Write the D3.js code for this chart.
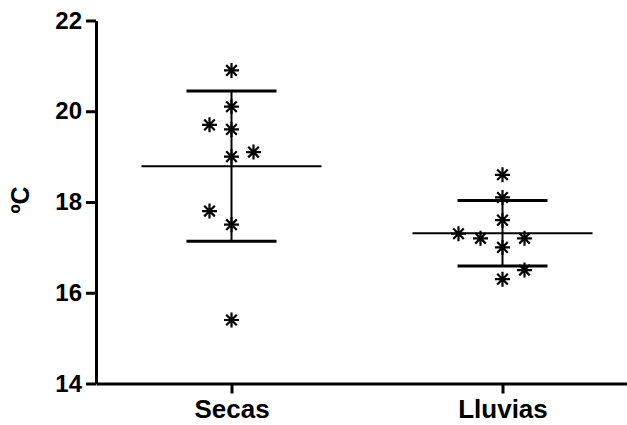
<!DOCTYPE html>
<html>
<head>
<meta charset="utf-8">
<script src="https://cdn.jsdelivr.net/npm/d3@7"></script>
<style>
body { margin:0; background:#fff; }
svg { display:block; font-family:"Liberation Sans", Arial, sans-serif; font-weight:bold; }
</style>
</head>
<body>
<svg id="chart"></svg>
<script>
// groups on the x axis
var groups = ["Secas","Lluvias"];
// temperature readings, one array per group
var secasValues  = [20.9,20.1,19.7,19.6,19.0,19.1,17.8,17.5,15.4];
var lluviasValues = [18.6,18.1,17.6,17.3,17.2,17.2,17.0,16.5,16.3];
// side-by-side slot of each point (scatter spread), same order as values
var secasSlots   = [0,0,-1,0,0,1,-1,0,0];
var lluviasSlots = [0,0,0,-2,-1,1,0,1,0];
var yTicks = [14,16,18,20,22];
var yLabel = "ºC";

var screen = {width:627,height:425};
var margins = {left:96,top:20.5,bottom:41.5};
var graph = {width:542,height:screen.height-margins.top-margins.bottom};

var svg = d3.select("#chart")
    .attr("width",screen.width)
    .attr("height",screen.height);

var xScale = d3.scalePoint()
    .domain(groups)
    .range([0,graph.width])
    .padding(0.5);
var yScale = d3.scaleLinear()
    .domain([14,22])
    .range([graph.height,0]);

var slotWidth = 22;

var series = [
    {name:"Secas",values:secasValues,slots:secasSlots},
    {name:"Lluvias",values:lluviasValues,slots:lluviasSlots}
];

var target = svg.append("g")
    .attr("transform","translate("+margins.left+","+margins.top+")");

// axes
var yAxis = d3.axisLeft(yScale).tickValues(yTicks).tickSize(10).tickSizeOuter(0).tickPadding(4);
var xAxis = d3.axisBottom(xScale).tickSize(10).tickSizeOuter(0).tickPadding(6);

var yG = target.append("g").call(yAxis);
var xG = target.append("g").attr("transform","translate(0,"+graph.height+")").call(xAxis);
[yG,xG].forEach(function(g){
    g.selectAll("path,line").attr("stroke","#000").attr("stroke-width",3);
    g.selectAll("text").attr("fill","#000").style("font-family","Liberation Sans, Arial, sans-serif").style("font-weight","bold");
});
yG.selectAll("text").style("font-size","24px");
xG.selectAll("text").style("font-size","26px");

svg.append("text")
    .text(yLabel)
    .attr("transform","translate(29,200) rotate(-90)")
    .attr("text-anchor","middle")
    .style("font-size","25px")
    .attr("fill","#000");

// mean and SD bars
series.forEach(function(s){
    var cx = xScale(s.name);
    var m = d3.mean(s.values);
    var sd = d3.deviation(s.values);
    var g = target.append("g").attr("stroke","#000");
    g.append("line")
        .attr("x1",cx).attr("x2",cx)
        .attr("y1",yScale(m+sd)).attr("y2",yScale(m-sd))
        .attr("stroke-width",2);
    g.append("line")
        .attr("x1",cx-90).attr("x2",cx+90)
        .attr("y1",yScale(m)).attr("y2",yScale(m))
        .attr("stroke-width",2);
    [m+sd,m-sd].forEach(function(v){
        g.append("line")
            .attr("x1",cx-45).attr("x2",cx+45)
            .attr("y1",yScale(v)).attr("y2",yScale(v))
            .attr("stroke-width",3);
    });
});

// asterisk markers
var r = 7.5;
var d = r*Math.SQRT1_2;
var star = "M0,"+(-r)+"V"+r+"M"+(-r)+",0H"+r+
           "M"+(-d)+","+(-d)+"L"+d+","+d+"M"+(-d)+","+d+"L"+d+","+(-d);

series.forEach(function(s){
    target.append("g")
        .selectAll("path")
        .data(s.values)
        .enter()
        .append("path")
        .attr("d",star)
        .attr("fill","none")
        .attr("stroke","#000")
        .attr("stroke-width",2.2)
        .attr("transform",function(v,i){
            return "translate("+(xScale(s.name)+s.slots[i]*slotWidth)+","+yScale(v)+")";
        });
});
</script>
</body>
</html>
